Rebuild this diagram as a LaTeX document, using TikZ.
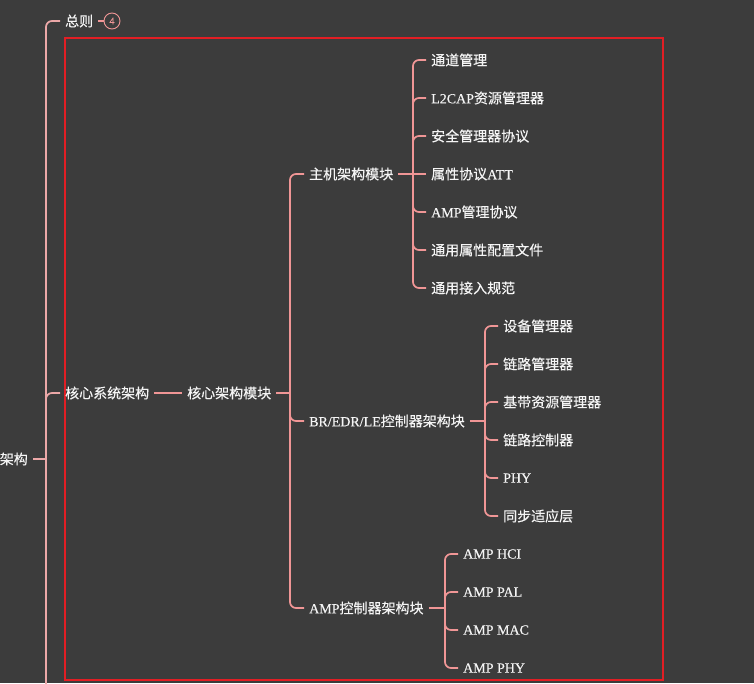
\documentclass[tikz,border=0pt]{standalone}
\usepackage{fontspec}
\setmainfont{Liberation Serif}[FakeBold=0.4]
\newfontfamily\cjk{Noto Sans CJK SC}[FakeBold=0.3]
\newcommand\zh[1]{{\cjk #1}}
\definecolor{bg}{RGB}{60,60,60}
\definecolor{ln}{RGB}{240,150,150}
\definecolor{ln2}{RGB}{236,168,168}
\definecolor{txt}{RGB}{245,245,245}
\definecolor{frame}{RGB}{226,30,36}
\begin{document}
\begin{tikzpicture}[x=1pt,y=-1pt,
  every node/.style={text=txt, font=\fontsize{14}{16}\selectfont, inner xsep=5pt, inner ysep=3pt, anchor=west},
  conn/.style={draw=ln, line width=1.7pt, rounded corners=6pt},
  spine/.style={draw=ln2, line width=1.7pt, rounded corners=6pt},
  badge/.style={circle, draw=ln, line width=0.9pt, inner sep=0pt, minimum size=16pt, font=\fontsize{10}{11}\selectfont, text=ln, anchor=center}]
\fill[bg] (0,0) rectangle (754,683);
\useasboundingbox (0,0) rectangle (754,683);

% frame
\draw[frame, line width=2pt] (65,38) rectangle (663,680);

% nodes
\node[anchor=east] (root) at (33,459) {\zh{架构}};
\node (zongze) at (60,21) {\zh{总则}};
\node[badge] (cnt) at (112,21) {4};
\node (sys) at (60,393) {\zh{核心系统架构}};
\node (core) at (182,393) {\zh{核心架构模块}};
\node (host) at (304,174) {\zh{主机架构模块}};
\node (br) at (304,421) {BR/EDR/LE\zh{控制器架构块}};
\node (amp) at (304,608) {AMP\zh{控制器架构块}};

\node (h1) at (426,60) {\zh{通道管理}};
\node (h2) at (426,98) {L2CAP\zh{资源管理器}};
\node (h3) at (426,136) {\zh{安全管理器协议}};
\node (h4) at (426,174) {\zh{属性协议}ATT};
\node (h5) at (426,212) {AMP\zh{管理协议}};
\node (h6) at (426,250) {\zh{通用属性配置文件}};
\node (h7) at (426,288) {\zh{通用接入规范}};

\node (c1) at (498,326) {\zh{设备管理器}};
\node (c2) at (498,364) {\zh{链路管理器}};
\node (c3) at (498,402) {\zh{基带资源管理器}};
\node (c4) at (498,440) {\zh{链路控制器}};
\node (c5) at (498,478) {PHY};
\node (c6) at (498,516) {\zh{同步适应层}};

\node (a1) at (458,554) {AMP HCI};
\node (a2) at (458,592) {AMP PAL};
\node (a3) at (458,630) {AMP MAC};
\node (a4) at (458,668) {AMP PHY};

% bus points
\coordinate (b0) at (46,459);
\coordinate (b0end) at (46,690);
\coordinate (b1) at (290,393);
\coordinate (b2) at (413,174);
\coordinate (b3) at (485,421);
\coordinate (b4) at (445,608);

% connectors
\draw[spine] (root.east) -- (b0);
\draw[spine] (b0) |- (zongze.west);
\draw[spine] (b0) |- (sys.west);
\draw[spine] (b0) -- (b0end);
\draw[conn] (zongze.east) -- (cnt.west);
\draw[conn] (sys.east) -- (core.west);
\draw[conn] (core.east) -- (b1);
\foreach \c in {host,br,amp} \draw[conn] (b1) |- (\c.west);

\draw[conn] (host.east) -- (b2) -- (h4.west);
\foreach \c in {h1,h2,h3,h5,h6,h7} \draw[conn] (b2) |- (\c.west);

\draw[conn] (br.east) -- (b3);
\foreach \c in {c1,c2,c3,c4,c5,c6} \draw[conn] (b3) |- (\c.west);

\draw[conn] (amp.east) -- (b4);
\foreach \c in {a1,a2,a3,a4} \draw[conn] (b4) |- (\c.west);
\end{tikzpicture}
\end{document}
